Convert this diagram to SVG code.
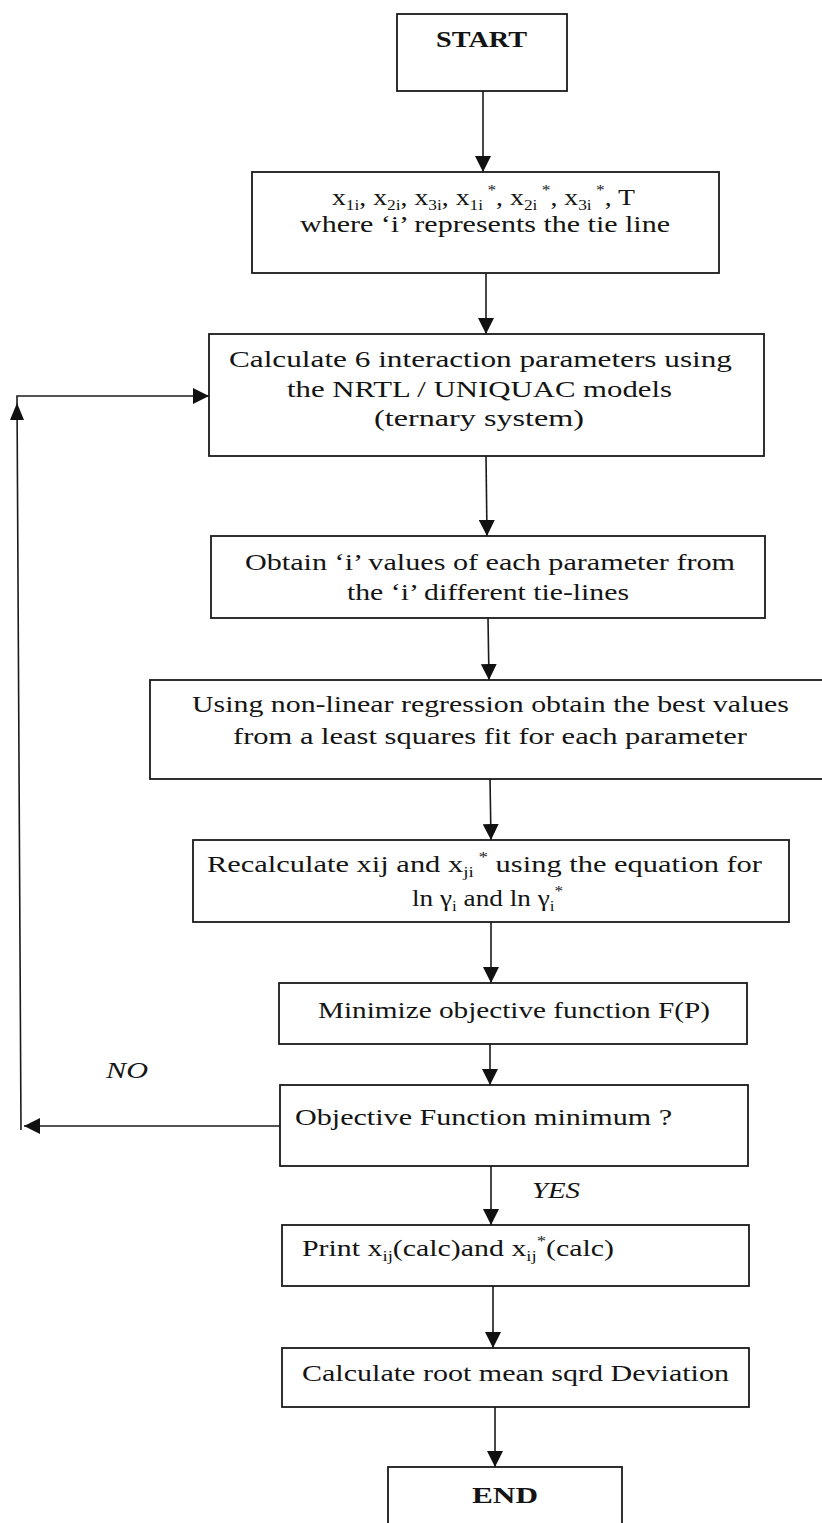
<svg xmlns="http://www.w3.org/2000/svg" width="822" height="1523" viewBox="0 0 822 1523">
<style>
.box{fill:#fff;stroke:#1a1a1a;stroke-width:1.8}
.t{font-family:"Liberation Serif","Times New Roman",serif;font-size:24px;fill:#141414}
.b{font-weight:bold}
.it{font-style:italic}
.sub{font-size:15px}
.ln{fill:none;stroke:#1a1a1a;stroke-width:1.6}
</style>
<defs>
<marker id="ah" viewBox="0 0 16 16" refX="16" refY="8" markerWidth="16" markerHeight="16" markerUnits="userSpaceOnUse" orient="auto">
<path d="M0,0 L16,8 L0,16 Z" fill="#111"/>
</marker>
</defs>
<rect width="822" height="1523" fill="#fff"/>

<g id="connectors">
<line class="ln" x1="483" y1="91" x2="483" y2="172" marker-end="url(#ah)"/>
<line class="ln" x1="486" y1="273" x2="486" y2="334" marker-end="url(#ah)"/>
<line class="ln" x1="486" y1="456" x2="487" y2="536" marker-end="url(#ah)"/>
<line class="ln" x1="488" y1="618" x2="489" y2="680" marker-end="url(#ah)"/>
<line class="ln" x1="490" y1="779" x2="491" y2="840" marker-end="url(#ah)"/>
<line class="ln" x1="491" y1="922" x2="491" y2="983" marker-end="url(#ah)"/>
<line class="ln" x1="490" y1="1044" x2="490" y2="1085" marker-end="url(#ah)"/>
<line class="ln" x1="491" y1="1166" x2="491" y2="1225" marker-end="url(#ah)"/>
<line class="ln" x1="493" y1="1286" x2="493" y2="1348" marker-end="url(#ah)"/>
<line class="ln" x1="495" y1="1407" x2="495" y2="1467" marker-end="url(#ah)"/>
<!-- NO feedback loop -->
<line class="ln" x1="280" y1="1126" x2="24" y2="1126" marker-end="url(#ah)"/>
<path class="ln" d="M21,1130 L17,396 L209,396" marker-end="url(#ah)"/>
<path d="M17,403 L10,420 L24,420 Z" fill="#111"/>
<text class="t it" x="106" y="1078" textLength="42" lengthAdjust="spacingAndGlyphs">NO</text>
<text class="t it" x="532" y="1198" textLength="48" lengthAdjust="spacingAndGlyphs">YES</text>
</g>

<g id="start">
<rect class="box" x="397" y="14" width="170" height="77"/>
<text class="t b" x="436" y="47" font-size="25" textLength="91" lengthAdjust="spacingAndGlyphs">START</text>
</g>

<g id="inputs">
<rect class="box" x="252" y="172" width="467" height="101"/>
<text class="t" x="332" y="205" textLength="303" lengthAdjust="spacingAndGlyphs">x<tspan class="sub" dy="5">1i</tspan><tspan dy="-5">, x</tspan><tspan class="sub" dy="5">2i</tspan><tspan dy="-5">, x</tspan><tspan class="sub" dy="5">3i</tspan><tspan dy="-5">, x</tspan><tspan class="sub" dy="5">1i</tspan><tspan class="sub" dy="-15"> *</tspan><tspan dy="10">, x</tspan><tspan class="sub" dy="5">2i</tspan><tspan class="sub" dy="-15"> *</tspan><tspan dy="10">, x</tspan><tspan class="sub" dy="5">3i</tspan><tspan class="sub" dy="-15"> *</tspan><tspan dy="10">, T</tspan></text>
<text class="t" x="300" y="232" textLength="370" lengthAdjust="spacingAndGlyphs">where ‘i’ represents the tie line</text>
</g>

<g id="calc-params">
<rect class="box" x="209" y="334" width="555" height="122"/>
<text class="t" x="229" y="367" textLength="503" lengthAdjust="spacingAndGlyphs">Calculate 6 interaction parameters using</text>
<text class="t" x="287" y="397" textLength="385" lengthAdjust="spacingAndGlyphs">the NRTL / UNIQUAC models</text>
<text class="t" x="374" y="426" textLength="210" lengthAdjust="spacingAndGlyphs">(ternary system)</text>
</g>

<g id="obtain-values">
<rect class="box" x="211" y="536" width="554" height="82"/>
<text class="t" x="245" y="570" textLength="490" lengthAdjust="spacingAndGlyphs">Obtain ‘i’ values of each parameter from</text>
<text class="t" x="347" y="600" textLength="282" lengthAdjust="spacingAndGlyphs">the ‘i’ different tie-lines</text>
</g>

<g id="regression">
<rect class="box" x="150" y="680" width="690" height="99"/>
<text class="t" x="192" y="712" textLength="597" lengthAdjust="spacingAndGlyphs">Using non-linear regression obtain the best values</text>
<text class="t" x="233" y="744" textLength="514" lengthAdjust="spacingAndGlyphs">from a least squares fit for each parameter</text>
</g>

<g id="recalculate">
<rect class="box" x="193" y="840" width="596" height="82"/>
<text class="t" x="207" y="872" textLength="555" lengthAdjust="spacingAndGlyphs">Recalculate xij and x<tspan class="sub" dy="5">ji</tspan><tspan class="sub" dy="-15"> *</tspan><tspan dy="10"> using the equation for</tspan></text>
<text class="t" x="412" y="906" textLength="151" lengthAdjust="spacingAndGlyphs">ln γ<tspan class="sub" dy="5">i</tspan><tspan dy="-5"> and ln γ</tspan><tspan class="sub" dy="5">i</tspan><tspan class="sub" dy="-15">*</tspan></text>
</g>

<g id="minimize">
<rect class="box" x="279" y="983" width="468" height="61"/>
<text class="t" x="318" y="1018" textLength="392" lengthAdjust="spacingAndGlyphs">Minimize objective function F(P)</text>
</g>

<g id="objective-check">
<rect class="box" x="280" y="1085" width="468" height="81"/>
<text class="t" x="295" y="1125" textLength="377" lengthAdjust="spacingAndGlyphs">Objective Function minimum ?</text>
</g>

<g id="print">
<rect class="box" x="282" y="1225" width="467" height="61"/>
<text class="t" x="302" y="1256" textLength="312" lengthAdjust="spacingAndGlyphs">Print x<tspan class="sub" dy="5">ij</tspan><tspan dy="-5">(calc)and x</tspan><tspan class="sub" dy="5">ij</tspan><tspan class="sub" dy="-15">*</tspan><tspan dy="10">(calc)</tspan></text>
</g>

<g id="rmsd">
<rect class="box" x="282" y="1348" width="467" height="59"/>
<text class="t" x="302" y="1381" textLength="427" lengthAdjust="spacingAndGlyphs">Calculate root mean sqrd Deviation</text>
</g>

<g id="end">
<rect class="box" x="388" y="1467" width="234" height="80"/>
<text class="t b" x="472" y="1503" font-size="26" textLength="66" lengthAdjust="spacingAndGlyphs">END</text>
</g>
</svg>
